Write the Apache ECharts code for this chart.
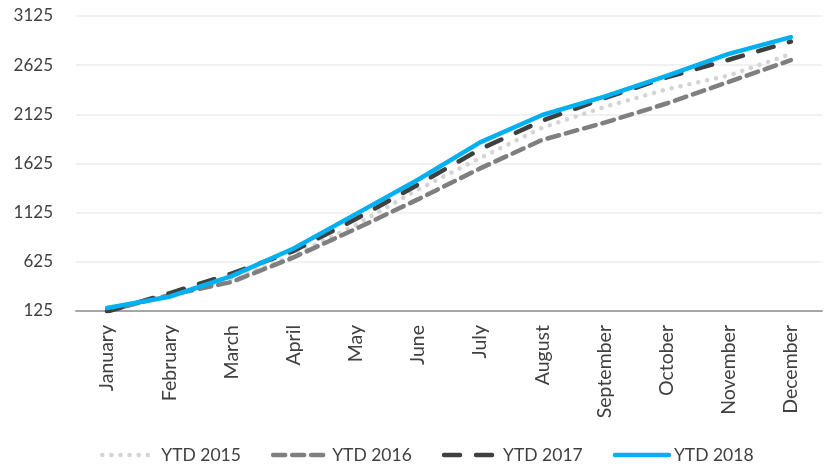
<!DOCTYPE html>
<html><head><meta charset="utf-8">
<script src="https://cdn.jsdelivr.net/npm/echarts@6/dist/echarts.min.js"></script>
<style>html,body{margin:0;padding:0;background:#fff}#c{width:827px;height:464px}</style>
</head><body><div id="c"></div>
<script>
var months = ['January','February','March','April','May','June','July','August','September','October','November','December'];
var ytd2015 = [130, 280, 450, 690, 1000, 1360, 1680, 1990, 2200, 2380, 2520, 2740];
var ytd2016 = [125, 285, 420, 670, 960, 1260, 1575, 1865, 2040, 2235, 2455, 2676];
var ytd2017 = [120, 305, 505, 735, 1060, 1410, 1770, 2060, 2290, 2500, 2680, 2865];
var ytd2018 = [155, 270, 480, 760, 1110, 1460, 1840, 2118, 2305, 2515, 2740, 2910];
var seriesNames = ['YTD 2015','YTD 2016','YTD 2017','YTD 2018'];

var font = 'Lato, "Open Sans", sans-serif';
var chart = echarts.init(document.getElementById('c'), null, {renderer:'canvas'});
function mk(name, data, color, type, w) {
  return {name:name, type:'line', data:data, symbol:'none', showSymbol:false, smooth:false, z: 2,
    lineStyle:{color:color, width:w, type:type, cap:'round'}, itemStyle:{color:color}};
}
chart.setOption({
  animation:false,
  grid:{left:76, right:5, top:16, bottom:153},
  xAxis:{type:'category', data:months, boundaryGap:true,
    axisLine:{lineStyle:{color:'#a6a6a6', width:2}}, axisTick:{show:false},
    axisLabel:{rotate:90, color:'#404040', fontSize:19.5, fontFamily:font, margin:14, interval:0}},
  yAxis:{type:'value', min:125, max:3125, interval:500,
    axisLine:{show:false}, axisTick:{show:false},
    splitLine:{lineStyle:{color:'#ececec', width:1.5}},
    axisLabel:{color:'#404040', fontSize:17, fontFamily:font, margin:23,
      formatter:function(v){return String(v);}}},
  legend:{top:441, left:95, itemWidth:54, itemHeight:10, itemGap:30,
    itemStyle:{opacity:0},
    lineStyle:{width:4.5},
    textStyle:{color:'#404040', fontSize:17.5, fontFamily:font},
    data:seriesNames},
  series:[
    mk(seriesNames[0], ytd2015, '#d4d4d4', [0.1, 9], 4.5),
    mk(seriesNames[1], ytd2016, '#7f7f7f', [12, 7], 4.5),
    mk(seriesNames[2], ytd2017, '#404040', [16, 16], 4.5),
    mk(seriesNames[3], ytd2018, '#00b0f0', 'solid', 4.5)
  ]
});
</script></body></html>
